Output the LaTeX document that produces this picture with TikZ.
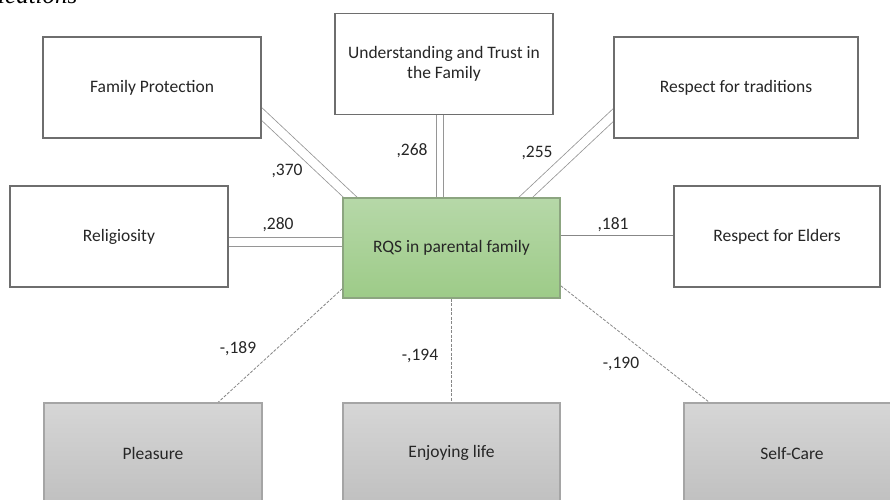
\documentclass[tikz,border=0pt]{standalone}
\usepackage{fontspec}
\setmainfont{Carlito}
\newfontfamily\capfont{Liberation Serif}
\usepackage{xcolor}
\usepackage{tikz}
\usetikzlibrary{positioning,calc,backgrounds}
\definecolor{boxborder}{RGB}{110,110,110}
\definecolor{inktext}{RGB}{38,38,38}
\definecolor{linkgray}{RGB}{150,150,150}
\definecolor{centertop}{RGB}{182,216,168}
\definecolor{centerbot}{RGB}{157,203,136}
\definecolor{centerborder}{RGB}{140,165,128}
\definecolor{negtop}{RGB}{214,214,214}
\definecolor{negbot}{RGB}{192,192,192}
\definecolor{negborder}{RGB}{165,165,165}

\begin{document}
\begin{tikzpicture}[x=1pt, y=-1pt,
  valuebox/.style={draw=boxborder, line width=1.4pt, fill=white, minimum width=218pt, minimum height=101pt, align=center, text=inktext, font=\fontsize{17.5}{20.5}\selectfont},
  centerbox/.style={draw=centerborder, line width=1.4pt, top color=centertop, bottom color=centerbot, minimum width=217pt, minimum height=100pt, align=center, text=inktext, font=\fontsize{17.5}{20.5}\selectfont},
  negbox/.style={draw=negborder, line width=1.2pt, top color=negtop, bottom color=negbot, minimum width=218pt, minimum height=100pt, align=center, text=inktext, font=\fontsize{17.5}{20.5}\selectfont},
  poslink/.style={draw=linkgray, line width=0.8pt, double=white, double distance=8.5pt, shorten <=-5pt, shorten >=-5pt},
  onelink/.style={draw=linkgray!90!black, line width=0.9pt},
  neglink/.style={draw=linkgray!90!black, line width=0.8pt, dash pattern=on 3pt off 1.5pt},
  coef/.style={anchor=base, text=inktext, inner sep=0pt, font=\fontsize{17.5}{20}\selectfont}
]
\useasboundingbox (0,0) rectangle (890,499);

% cut-off caption above the figure
\node[anchor=base west, inner sep=0pt, font=\capfont\itshape\fontsize{25}{28}\selectfont, text=black] (caption) at (-2,3.5) {ications};

% value boxes
\node[valuebox] (famprot) at (152,87.5) {Family Protection};
\node[valuebox] (undtrust) at (444,64) {Understanding and Trust in\\the Family};
\node[valuebox, minimum width=244pt] (resptrad) at (736,87.5) {Respect for traditions};
\node[valuebox] (relig) at (119,236.5) {Religiosity};
\node[valuebox, minimum width=206pt] (respeld) at (777,236.5) {Respect for Elders};

\node[centerbox] (rqs) at (451.5,248) {RQS in parental family};

\node[negbox] (pleasure) at (153,453) {Pleasure};
\node[negbox, minimum width=217pt] (enjoy) at (451.5,453) {Enjoying life};
\node[negbox, minimum width=216pt] (selfcare) at (792,453) {Self-Care};

\begin{scope}[on background layer]
% positive links
\draw[poslink] ([yshift=-26.5pt]famprot.east) -- ([xshift=8pt]rqs.north west);
\draw[poslink, double distance=5.5pt] ([xshift=-4pt]undtrust.south) -- ([xshift=-4pt]undtrust.south |- rqs.north);
\draw[poslink] ([yshift=-27.5pt]resptrad.west) -- ([xshift=-35pt]rqs.north east);
\draw[poslink] ([yshift=-5.5pt]relig.east) -- ([yshift=-5.5pt]relig.east -| rqs.west);
\draw[onelink] ([yshift=1.5pt]respeld.west) -- ([yshift=1.5pt]respeld.west -| rqs.east);

% negative links
\draw[neglink] ([yshift=10pt]rqs.south west) -- ([xshift=65pt]pleasure.north);
\draw[neglink] (rqs.south) -- (enjoy.north);
\draw[neglink] ([yshift=13pt]rqs.south east) -- ([xshift=26pt]selfcare.north west);
\end{scope}

% coefficients
\node[coef] (c370) at (287,175) {,370};
\node[coef] (c268) at (412,155) {,268};
\node[coef] (c255) at (537,157) {,255};
\node[coef] (c280) at (278,229) {,280};
\node[coef] (c181) at (613,229) {,181};
\node[coef] (c189) at (238,353) {-,189};
\node[coef] (c194) at (420,360) {-,194};
\node[coef] (c190) at (621,368) {-,190};
\end{tikzpicture}
\end{document}
